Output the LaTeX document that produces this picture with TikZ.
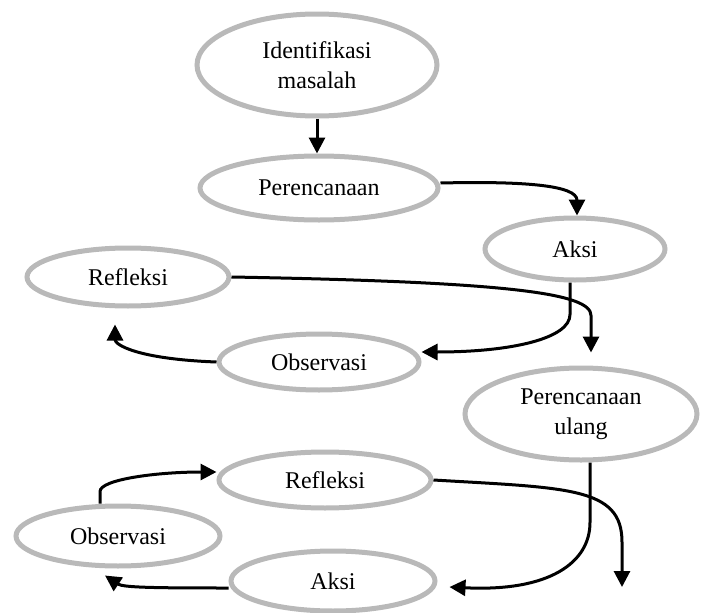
\documentclass[tikz,border=0pt]{standalone}
\usepackage{fontspec}
\setmainfont{Liberation Serif}
\usetikzlibrary{positioning,shapes.geometric,arrows.meta}
\tikzset{
  stage/.style={ellipse, draw=gray!55, line width=5pt, inner sep=0pt, align=center},
  nextStep/.style={-{Triangle[length=16pt,width=16pt]}, line width=3pt}
}

\begin{document}
\begin{tikzpicture}[x=1pt, y=-1pt, font=\fontsize{24}{30}\selectfont]
  \useasboundingbox (0,0) rectangle (702,613);
  % first cycle
  \node [stage, minimum width=240pt, minimum height=102pt] (ident) at (317,65) {Identifikasi\\masalah};
  \node [stage, minimum width=238pt, minimum height=64pt] (plan) at (319,188) {Perencanaan};
  \node [stage, minimum width=180pt, minimum height=62pt] (act) at (575,249) {Aksi};
  \node [stage, minimum width=202pt, minimum height=58pt] (refl) at (128,277) {Refleksi};
  \node [stage, minimum width=200pt, minimum height=56pt] (obs) at (319,362) {Observasi};
  % second cycle
  \node [stage, minimum width=232pt, minimum height=92pt] (replan) at (581,414) {Perencanaan\\ulang};
  \node [stage, minimum width=212pt, minimum height=56pt] (refl2) at (325,480) {Refleksi};
  \node [stage, minimum width=204pt, minimum height=60pt] (obs2) at (118,536) {Observasi};
  \node [stage, minimum width=204pt, minimum height=60pt] (act2) at (333,581) {Aksi};
  \coordinate (out) at (622,587);

  \draw [nextStep] (ident.south) -- (ident.south |- plan.north);
  \draw [nextStep] ([yshift=5pt]plan.east) .. controls +(85,-2) and +(0,-30) .. ([xshift=2pt]act.north);
  \draw [nextStep] ([xshift=-5pt]act.south) -- ++(0,32) .. controls +(0,24) and +(90,0) .. ([yshift=10pt]obs.east);
  \draw [nextStep] (obs.west) .. controls +(-80,-3) and +(0,20) .. ([xshift=-13pt,yshift=-16pt]refl.south);
  \draw [nextStep] (refl.east) .. controls +(280,5) and +(0,-22) .. ([xshift=10pt,yshift=50pt]replan.north) -- ([xshift=10pt,yshift=13pt]replan.north);
  \draw [nextStep] ([xshift=9pt]replan.south) -- ++(0,60) .. controls +(0,40) and +(100,5) .. ([xshift=12pt,yshift=-6pt]act2.east);
  \draw [nextStep] ([yshift=-7pt]act2.west) .. controls +(-75,0) and +(18,12) .. ([xshift=-13pt,yshift=-7pt]obs2.south);
  \draw [nextStep] ([xshift=-18pt]obs2.north) -- ++(0,-12) .. controls +(0,-12) and +(-60,0) .. ([yshift=8pt]refl2.west);
  \draw [nextStep] (refl2.east) .. controls +(135,8) and +(0,-55) .. ([yshift=45pt]out) -- (out);
\end{tikzpicture}
\end{document}
